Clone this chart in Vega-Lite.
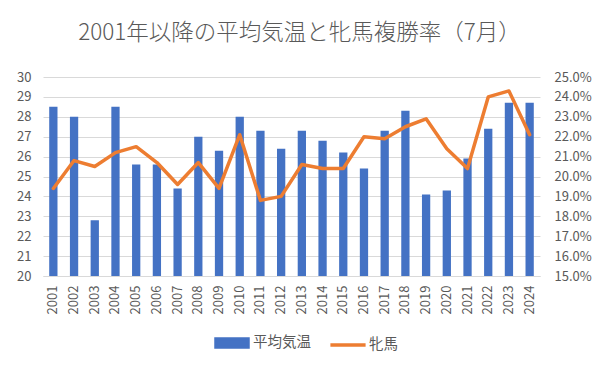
{
  "$schema": "https://vega.github.io/schema/vega-lite/v6.json",
  "width": 497,
  "height": 199,
  "autosize": {"type": "none"},
  "padding": {"left": 43, "top": 77, "right": 67, "bottom": 94},
  "background": "white",
  "title": {
    "text": "2001年以降の平均気温と牝馬複勝率（7月）",
    "font": "Noto Sans CJK JP",
    "fontSize": 22.5,
    "fontWeight": 300,
    "color": "#595959",
    "anchor": "middle",
    "frame": "group",
    "offset": 27,
    "dx": 8
  },
  "data": {
    "values": [
      {"year": "2001", "temp": 28.5, "rate": 0.194},
      {"year": "2002", "temp": 28.0, "rate": 0.208},
      {"year": "2003", "temp": 22.8, "rate": 0.205},
      {"year": "2004", "temp": 28.5, "rate": 0.212},
      {"year": "2005", "temp": 25.6, "rate": 0.215},
      {"year": "2006", "temp": 25.6, "rate": 0.207},
      {"year": "2007", "temp": 24.4, "rate": 0.196},
      {"year": "2008", "temp": 27.0, "rate": 0.207},
      {"year": "2009", "temp": 26.3, "rate": 0.194},
      {"year": "2010", "temp": 28.0, "rate": 0.221},
      {"year": "2011", "temp": 27.3, "rate": 0.188},
      {"year": "2012", "temp": 26.4, "rate": 0.190},
      {"year": "2013", "temp": 27.3, "rate": 0.206},
      {"year": "2014", "temp": 26.8, "rate": 0.204},
      {"year": "2015", "temp": 26.2, "rate": 0.204},
      {"year": "2016", "temp": 25.4, "rate": 0.220},
      {"year": "2017", "temp": 27.3, "rate": 0.219},
      {"year": "2018", "temp": 28.3, "rate": 0.225},
      {"year": "2019", "temp": 24.1, "rate": 0.229},
      {"year": "2020", "temp": 24.3, "rate": 0.214},
      {"year": "2021", "temp": 25.9, "rate": 0.204},
      {"year": "2022", "temp": 27.4, "rate": 0.240},
      {"year": "2023", "temp": 28.7, "rate": 0.243},
      {"year": "2024", "temp": 28.7, "rate": 0.221}
    ]
  },
  "encoding": {
    "x": {
      "field": "year",
      "type": "ordinal",
      "title": null,
      "scale": {"paddingInner": 0.6, "paddingOuter": 0.3},
      "axis": {
        "labelAngle": -90,
        "labelFontSize": 13,
        "labelColor": "#595959",
        "labelPadding": 9,
        "ticks": false,
        "domainColor": "#D9D9D9",
        "domainWidth": 1,
        "grid": false
      }
    }
  },
  "layer": [
    {
      "mark": {"type": "bar", "color": "#4472C4", "clip": true},
      "encoding": {
        "y": {
          "field": "temp",
          "type": "quantitative",
          "title": null,
          "scale": {"domain": [20, 30], "nice": false, "zero": false},
          "axis": {
            "orient": "left",
            "values": [20, 21, 22, 23, 24, 25, 26, 27, 28, 29, 30],
            "labelFontSize": 13,
            "labelColor": "#595959",
            "labelPadding": 12,
            "ticks": false,
            "domain": false,
            "grid": true,
            "gridColor": "#D9D9D9",
            "gridWidth": 1
          }
        },
        "color": {
          "datum": "平均気温",
          "type": "nominal",
          "scale": {"domain": ["平均気温", "牝馬"], "range": ["#4472C4", "#ED7D31"]},
          "legend": {
            "orient": "none",
            "legendX": 171,
            "legendY": 248,
            "direction": "horizontal",
            "title": null,
            "labelFont": "Noto Sans CJK JP",
            "labelFontSize": 14.5,
            "labelColor": "#595959",
            "labelOffset": 3,
            "columnPadding": 12,
            "symbolSize": 1024,
            "encode": {
              "symbols": {
                "update": {
                  "shape": {"signal": "datum.value === '牝馬' ? 'M-1.1,0H1.1' : 'M-1,-0.25H1V0.25H-1Z'"},
                  "fill": {"signal": "datum.value === '牝馬' ? 'transparent' : '#4472C4'"},
                  "stroke": {"signal": "datum.value === '牝馬' ? '#ED7D31' : 'transparent'"},
                  "strokeWidth": {"value": 3.5},
                  "opacity": {"value": 1},
                  "fillOpacity": {"value": 1},
                  "strokeOpacity": {"value": 1}
                }
              }
            }
          }
        }
      }
    },
    {
      "mark": {"type": "line", "strokeWidth": 3.5, "strokeJoin": "round", "strokeCap": "round"},
      "encoding": {
        "y": {
          "field": "rate",
          "type": "quantitative",
          "title": null,
          "scale": {"domain": [0.15, 0.25], "nice": false, "zero": false},
          "axis": {
            "orient": "right",
            "format": ".1%",
            "values": [0.15, 0.16, 0.17, 0.18, 0.19, 0.20, 0.21, 0.22, 0.23, 0.24, 0.25],
            "labelFontSize": 13,
            "labelColor": "#595959",
            "labelPadding": 14,
            "ticks": false,
            "domain": false,
            "grid": false
          }
        },
        "color": {"datum": "牝馬", "type": "nominal"}
      }
    }
  ],
  "resolve": {"scale": {"y": "independent"}},
  "config": {
    "view": {"stroke": null},
    "font": "Noto Sans CJK JP",
    "axis": {"labelFont": "Noto Sans CJK JP"}
  }
}
